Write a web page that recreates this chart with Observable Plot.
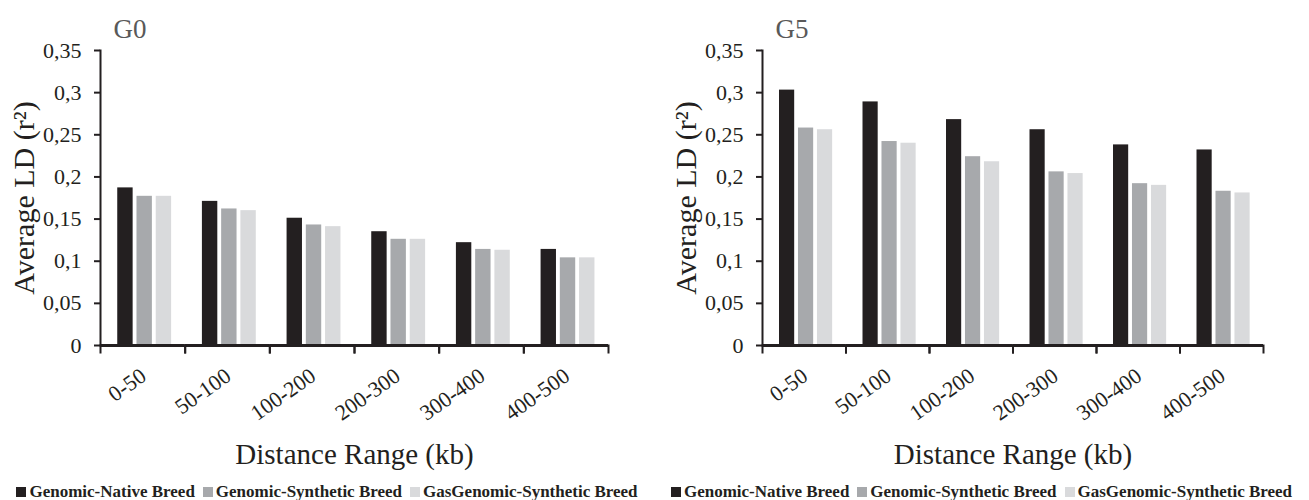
<!DOCTYPE html>
<html><head><meta charset="utf-8">
<script src="https://cdn.jsdelivr.net/npm/d3@7"></script>
<script src="https://cdn.jsdelivr.net/npm/@observablehq/plot@0.6"></script>
<style>
body{margin:0;background:#fff;font-family:"Liberation Serif",serif;}
#wrap{position:relative;width:1309px;height:500px;overflow:hidden;}
.panel{position:absolute;top:0;}
.legend{position:absolute;top:483px;display:flex;justify-content:center;align-items:center;font:bold 17px "Liberation Serif",serif;line-height:17px;color:#231f20;white-space:nowrap;}
.legend .sw{display:inline-block;width:10px;height:10px;margin-right:3px;}
.legend .item{display:flex;align-items:center;margin:0 4px;}
</style></head><body><div id="wrap"></div>
<script>
const categories = ["0-50","50-100","100-200","200-300","300-400","400-500"];
const seriesNames = ["Genomic-Native Breed","Genomic-Synthetic Breed","GasGenomic-Synthetic Breed"];
const seriesColors = ["#231f20","#a7a9ac","#d9dadc"];
const g0Native = [0.187,0.171,0.151,0.135,0.122,0.114];
const g0Synthetic = [0.177,0.162,0.143,0.126,0.114,0.104];
const g0GasSynthetic = [0.177,0.160,0.141,0.126,0.113,0.104];
const g5Native = [0.303,0.289,0.268,0.256,0.238,0.232];
const g5Synthetic = [0.258,0.242,0.224,0.206,0.192,0.183];
const g5GasSynthetic = [0.256,0.240,0.218,0.204,0.190,0.181];
const yTicks = [0,0.05,0.1,0.15,0.2,0.25,0.3,0.35];
const yTickLabels = ["0","0,05","0,1","0,15","0,2","0,25","0,3","0,35"];
const panelTitles = ["G0","G5"];
const xTitle = "Distance Range (kb)";
const yTitle = "Average LD (r²)";

const ink = "#231f20";
const serif = "Liberation Serif";

function chart(title, valueArrays, width, marginLeft, marginRight) {
  const rows = [];
  categories.forEach((c, i) => seriesNames.forEach((s, j) => rows.push({range: c, series: s, value: valueArrays[j][i]})));
  const H = 475, MT = 50, MB = 130;
  const frameH = H - MT - MB;
  const svg = Plot.plot({
    width, height: H, marginLeft, marginRight, marginTop: MT, marginBottom: MB,
    style: {color: ink, background: "#fff", overflow: "visible", fontFamily: serif},
    fx: {domain: categories, padding: 0, axis: null, label: null, round: false},
    x: {domain: seriesNames, paddingInner: 0.2, paddingOuter: 0.8, align: 0.56, round: false, axis: null},
    y: {domain: [0, 0.35], axis: null},
    color: {domain: seriesNames, range: seriesColors},
    marks: [
      Plot.barY(rows, {fx: "range", x: "series", y: "value", fill: "series"}),
      Plot.ruleY([0], {stroke: ink, strokeWidth: 3}),
      Plot.frame({anchor: "left", stroke: ink, strokeWidth: 2, insetTop: frameH, insetBottom: -7}),
      Plot.frame({anchor: "right", stroke: ink, strokeWidth: 2, insetTop: frameH, insetBottom: -7}),
      Plot.frame({anchor: "left", stroke: ink, strokeWidth: 2, facetAnchor: "left"}),
      Plot.axisY(yTicks, {anchor: "left", tickSize: 6, tickPadding: 14, strokeWidth: 2,
        tickFormat: () => "", label: null, color: ink}),
      Plot.text(yTicks, {y: d => d, text: d => yTickLabels[yTicks.indexOf(d)], frameAnchor: "left", facetAnchor: "left",
        dx: -19, textAnchor: "end", lineAnchor: "middle", fontSize: 22, fontFamily: serif, fill: ink, ariaLabel: "ytick-labels"}),
      Plot.text(categories, {fx: d => d, text: d => d, frameAnchor: "bottom", rotate: -35, textAnchor: "end", lineAnchor: "middle",
        dx: 1, dy: 28, fontSize: 22, fontFamily: serif, fill: ink, ariaLabel: "xtick-labels"}),
      Plot.text([yTitle], {frameAnchor: "left", facetAnchor: "left", rotate: -90, dx: -88, lineAnchor: "top", textAnchor: "middle", fontSize: 30, fontFamily: serif, fill: ink}),
      Plot.text([title], {frameAnchor: "top-left", facetAnchor: "left", dx: 13, dy: -13, lineAnchor: "bottom", textAnchor: "start", fontSize: 27, fontFamily: serif, fill: "#595959"}),
      Plot.axisFx({anchor: "bottom", tickSize: 0, tickFormat: () => "", color: ink, fontSize: 29, fontFamily: serif,
        label: xTitle, labelAnchor: "center", labelOffset: 118})
    ]
  });
  svg.setAttribute("font-family", serif);
  svg.querySelectorAll('g[aria-label="ytick-labels"] text, g[aria-label="xtick-labels"] text').forEach(el => {
    el.setAttribute("font-size", "22");
    el.style.fontSize = "22px";
    el.style.fontFamily = serif;
  });
  svg.querySelectorAll('g[aria-label="fx-axis label"] text').forEach(el => {
    el.style.fontSize = "29px";
    el.style.fontFamily = serif;
  });
  return svg;
}

const wrap = document.getElementById("wrap");
const panels = [
  {left: 0, width: 654, ml: 100, mr: 46, title: panelTitles[0], values: [g0Native, g0Synthetic, g0GasSynthetic]},
  {left: 654, width: 655, ml: 108, mr: 46, title: panelTitles[1], values: [g5Native, g5Synthetic, g5GasSynthetic]}
];
for (const p of panels) {
  const div = document.createElement("div");
  div.className = "panel";
  div.style.left = p.left + "px";
  div.appendChild(chart(p.title, p.values, p.width, p.ml, p.mr));
  wrap.appendChild(div);
  const leg = document.createElement("div");
  leg.className = "legend";
  leg.style.left = p.left + "px";
  leg.style.width = p.width + "px";
  seriesNames.forEach((s, i) => {
    const item = document.createElement("span");
    item.className = "item";
    const sw = document.createElement("span");
    sw.className = "sw";
    sw.style.background = seriesColors[i];
    item.appendChild(sw);
    item.appendChild(document.createTextNode(s));
    leg.appendChild(item);
  });
  wrap.appendChild(leg);
}
</script></body></html>
